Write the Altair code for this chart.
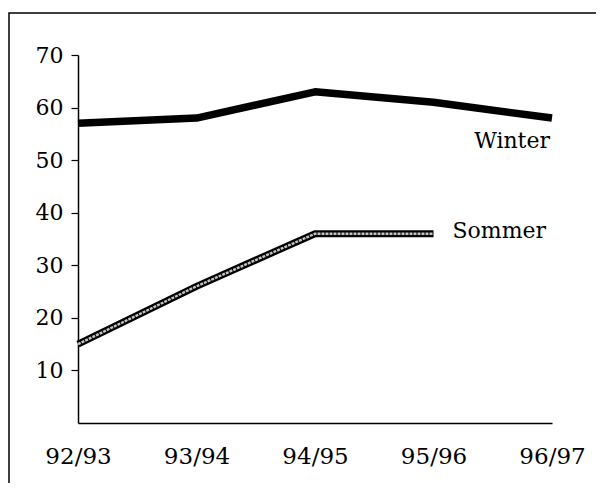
import altair as alt
import pandas as pd

seasons = ["92/93", "93/94", "94/95", "95/96", "96/97"]
winter = [57, 58, 63, 61, 58]
sommer_seasons = ["92/93", "93/94", "94/95", "95/96"]
sommer = [15, 26, 36, 36]
y_ticks = [10, 20, 30, 40, 50, 60, 70]

FONT = "DejaVu Serif"

df_w = pd.DataFrame({"season": seasons, "value": winter})
df_s = pd.DataFrame({"season": sommer_seasons, "value": sommer})
df_lbl_w = pd.DataFrame({"season": [seasons[-1]], "value": [winter[-1]], "label": ["Winter"]})
df_lbl_s = pd.DataFrame({"season": [sommer_seasons[-1]], "value": [sommer[-1]], "label": ["Sommer"]})

x = alt.X("season:N", sort=seasons,
          scale=alt.Scale(type="point", padding=0, domain=seasons),
          axis=alt.Axis(title=None, ticks=False, labelAngle=0, labelPadding=22,
                        labelFont=FONT, labelFontSize=23, labelColor="black",
                        domainColor="black", domainWidth=1.5, grid=False))
y = alt.Y("value:Q", scale=alt.Scale(domain=[0, 70], nice=False),
          axis=alt.Axis(title=None, values=y_ticks, tickSize=7, tickColor="black",
                        tickWidth=1.2, labelPadding=8, labelFont=FONT, labelFontSize=22,
                        labelColor="black", domainColor="black", domainWidth=1.5, grid=False))

winter_line = alt.Chart(df_w).mark_line(color="black", strokeWidth=7.5, strokeCap="butt",
                                        strokeJoin="round").encode(x=x, y=y)
sommer_outer = alt.Chart(df_s).mark_line(color="black", strokeWidth=7, strokeCap="butt",
                                         strokeJoin="miter").encode(x=x, y=y)
sommer_inner = alt.Chart(df_s).mark_line(color="#c4c4c4", strokeWidth=2.4, strokeCap="butt",
                                         strokeJoin="miter", strokeDash=[3, 1]).encode(x=x, y=y)

lbl_w = alt.Chart(df_lbl_w).mark_text(font=FONT, fontSize=22, align="right", baseline="alphabetic",
                                      dx=-2, dy=30, color="black").encode(x=x, y=y, text="label:N")
lbl_s = alt.Chart(df_lbl_s).mark_text(font=FONT, fontSize=22, align="left", baseline="alphabetic",
                                      dx=19, dy=4, color="black").encode(x=x, y=y, text="label:N")

frame = alt.Chart(df_w.head(1)).mark_rect(fill="transparent", stroke="black", strokeWidth=1.5).encode(
    x=alt.value(-69), x2=alt.value(600), y=alt.value(-42), y2=alt.value(600))

chart = alt.layer(frame, winter_line, sommer_outer, sommer_inner, lbl_w, lbl_s).properties(
    width=474, height=368,
    background="white",
    autosize=alt.AutoSizeParams(type="none"),
    padding={"left": 70, "top": 47, "right": 44, "bottom": 60},
).configure_view(strokeWidth=0, stroke=None)

chart.save("out.html", embed_options={"renderer": "svg", "actions": False})
